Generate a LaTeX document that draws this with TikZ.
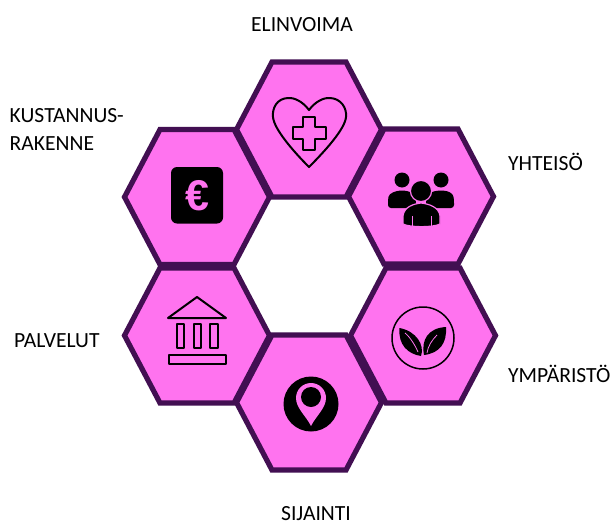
\documentclass[tikz,border=0pt]{standalone}
\usepackage{fontspec}
\setmainfont{Carlito}
\newfontfamily\eurofont{Liberation Sans}
\definecolor{hexfill}{HTML}{FF73EF}
\definecolor{hexline}{HTML}{420F52}
\definecolor{iconink}{HTML}{000000}
\tikzset{
  hexcell/.pic={
    \path[draw=hexline,fill=hexfill,line width=5.2pt,line join=miter]
      (-72.5,0) -- (-37,-67.5) -- (37,-67.5) -- (72.5,0) -- (37,67.5) -- (-37,67.5) -- cycle;
  },
  lbl/.style={font=\fontsize{21.6pt}{25pt}\selectfont,text=black,inner sep=0pt,anchor=base},
  lblL/.style={lbl,anchor=base west},
  outline/.style={draw=iconink,line width=2pt,line join=round},
  pinkgap/.style={draw=hexfill,line width=1.4pt}
}
\begin{document}
\begin{tikzpicture}[x=1pt,y=-1pt]
\useasboundingbox[fill=white] (0,0) rectangle (613,525);
% hexagons
\pic at (309,129.5) {hexcell};
\pic at (197,197) {hexcell};
\pic at (421,196.5) {hexcell};
\pic at (197,335.5) {hexcell};
\pic at (423,335.5) {hexcell};
\pic at (309,402.5) {hexcell};
% heart
\draw[outline] (309,110)
  .. controls (303,102) and (295,97.5) .. (288,98)
  .. controls (277,98.5) and (272,108) .. (273,117)
  .. controls (274,129) and (293,151) .. (309,167)
  .. controls (325,151) and (345,129) .. (346,117)
  .. controls (347,108) and (341,98.5) .. (330,98)
  .. controls (323,97.5) and (315,102) .. (309,110) -- cycle;
\draw[outline] (303,116.5) -- (315,116.5) -- (315,127) -- (325.5,127) -- (325.5,139) -- (315,139) -- (315,149.5) -- (303,149.5) -- (303,139) -- (292.5,139) -- (292.5,127) -- (303,127) -- cycle;
% euro
\fill[iconink,rounded corners=6pt] (171,167) rectangle (223,223.5);
\node[inner sep=0pt,text=hexfill,font=\eurofont\bfseries\fontsize{43pt}{43pt}\selectfont] (euro) at (197,195.5) {€};
% people
\fill[iconink] (402,180) circle (7.5);
\fill[iconink] (441,180) circle (7.5);
\fill[iconink,rounded corners=3pt] (388,208) -- (388,200) .. controls (389,193) and (396,191) .. (402,190.5) .. controls (408,191) and (415,193) .. (416,200) -- (416,208) -- cycle;
\fill[iconink,rounded corners=3pt] (426,208) -- (426,200) .. controls (427,193) and (434,191) .. (441,190.5) .. controls (448,191) and (453,193) .. (454,200) -- (454,208) -- cycle;
\filldraw[fill=iconink,draw=hexfill,line width=1.2pt] (421,191) circle (10.6);
\filldraw[fill=iconink,draw=hexfill,line width=1.2pt] (403,224) -- (403,216) .. controls (404,207) and (413,204) .. (421,203) .. controls (429,204) and (439,207) .. (440,216) -- (440,224) .. controls (434,227.5) and (409,227.5) .. (403,224) -- cycle;
\draw[pinkgap,line width=.9pt] (412,216) -- (412,227);
\draw[pinkgap,line width=.9pt] (431,216) -- (431,227);
% leaves
\draw[iconink,line width=1.5pt] (423,338) circle (31);
\fill[iconink] (399.5,328) .. controls (398,345) and (408,354) .. (421,356) .. controls (425,345) and (416,331) .. (399.5,328) -- cycle;
\fill[iconink] (424,355) .. controls (421,340) and (428,328) .. (446,327) .. controls (447,343) and (440,353) .. (424,355) -- cycle;
\draw[pinkgap,line width=.8pt] (405,333) .. controls (410,337) and (415,345) .. (418,352);
\draw[pinkgap,line width=.8pt] (427,353) .. controls (428,346) and (432,340) .. (437,335);
% bank
\draw[outline] (197,297) -- (226,318) -- (168,318) -- cycle;
\draw[outline] (176.5,324) rectangle (184,348);
\draw[outline] (193.5,324) rectangle (201,348);
\draw[outline] (209.5,324) rectangle (217.5,348);
\draw[outline] (168.5,354.5) rectangle (225.5,364);
% pin
\fill[iconink] (311,404) circle (27.5);
\fill[hexfill] (311,426) .. controls (306,416) and (296,408) .. (296,398)
  .. controls (296,389.7) and (302.7,383) .. (311,383)
  .. controls (319.3,383) and (326,389.7) .. (326,398)
  .. controls (326,408) and (316,416) .. (311,426) -- cycle;
\fill[iconink] (311,397) circle (10);
% labels
\node[lbl] (elinvoima) at (302,31) {ELINVOIMA};
\node[lblL] (kustannus) at (9.5,122) {KUSTANNUS-};
\node[lblL] (rakenne) at (9.5,150) {RAKENNE};
\node[lblL] (yhteiso) at (508,170.5) {YHTEISÖ};
\node[lblL] (palvelut) at (14,347.5) {PALVELUT};
\node[lblL] (ymparisto) at (508,382.5) {YMPÄRISTÖ};
\node[lbl] (sijainti) at (316,520.5) {SIJAINTI};
\end{tikzpicture}
\end{document}
